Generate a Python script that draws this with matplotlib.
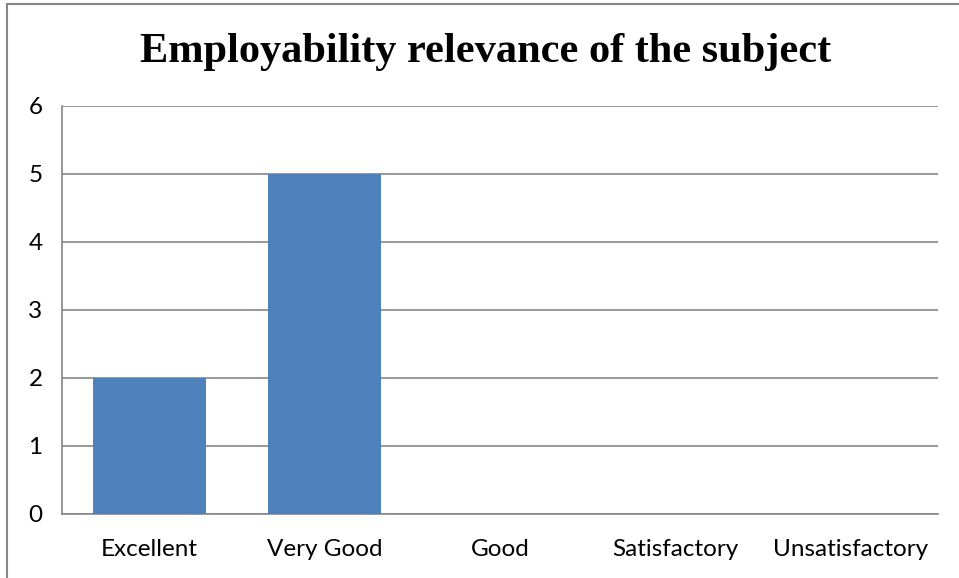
import numpy as np
import matplotlib.pyplot as plt
from matplotlib.patches import Rectangle

categories = ['Excellent', 'Very Good', 'Good', 'Satisfactory', 'Unsatisfactory']
counts = [2, 5, 0, 0, 0]

W, H = 959, 578
fig = plt.figure(figsize=(W/100, H/100), dpi=100)

# chart border (only left and top visible in the reference)
fig.add_artist(Rectangle((7/W, -0.1), 1.2, 1 - 4/H + 0.1, transform=fig.transFigure,
                         fill=False, edgecolor='#868686', linewidth=1.5))

ax = fig.add_axes([62/W, 1 - 514/H, (938-62)/W, (514-106)/H])
x = np.arange(len(categories))
ax.bar(x, counts, width=0.645, color='#4F81BD', zorder=3)

ax.set_xlim(-0.5, len(categories) - 0.5)
ax.set_ylim(0, 6)
ax.set_yticks(range(7))
ax.set_xticks(x)
ax.set_xticklabels(categories)
ax.grid(axis='y', color='#868686', linewidth=1.2, zorder=0)
ax.tick_params(length=0, labelsize=17.5, pad=18)
ax.tick_params(axis='y', pad=14)
for lbl in ax.get_xticklabels() + ax.get_yticklabels():
    lbl.set_family(['Lato', 'DejaVu Sans'])
for side in ['top', 'right']:
    ax.spines[side].set_visible(False)
ax.spines['left'].set_color('#868686')
ax.spines['bottom'].set_color('#868686')
ax.spines['left'].set_linewidth(1.2)
ax.spines['bottom'].set_linewidth(1.2)

fig.text(486/W, 1 - 52/H, 'Employability relevance of the subject', ha='center', va='center',
         fontsize=30.5, fontweight='bold', family='Liberation Serif')

fig.savefig('out.png', dpi=100)
